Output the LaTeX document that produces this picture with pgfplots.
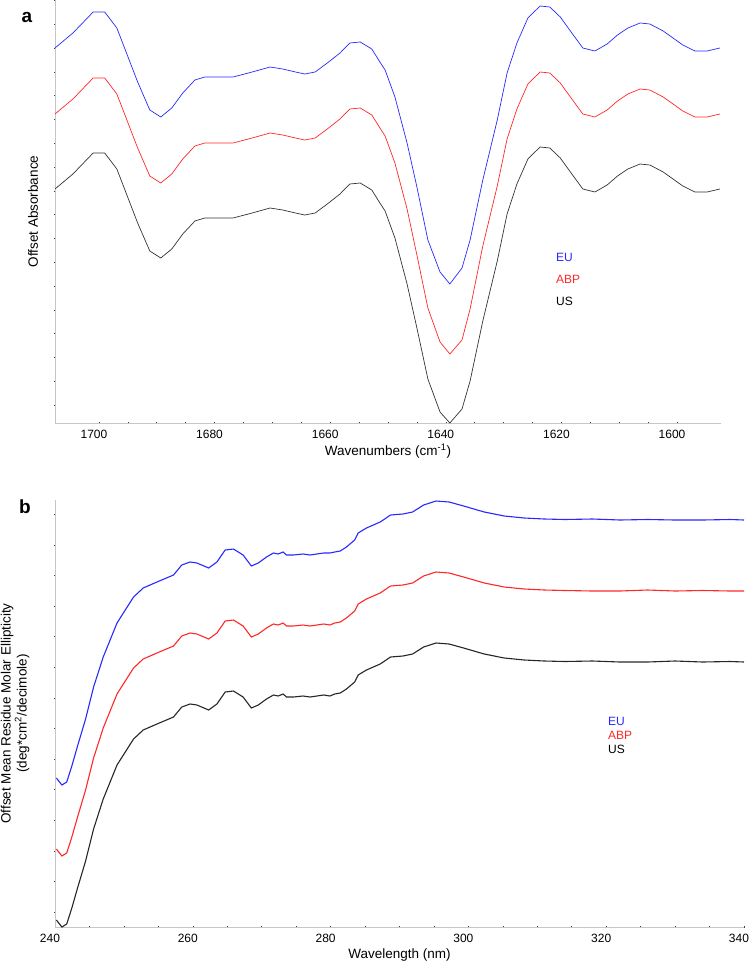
\documentclass[border=0pt]{standalone}
\usepackage{fontspec}
\setmainfont{Liberation Sans}
\usepackage{pgfplots}
\pgfplotsset{compat=1.18}
\definecolor{myblue}{RGB}{40,40,255}
\definecolor{myred}{RGB}{255,40,40}
\begin{document}
\begin{tikzpicture}
\useasboundingbox (0pt,0pt) rectangle (750pt,-964pt);
\pgfplotsset{
  myaxis/.style={
    scale only axis,
    axis x line=bottom, axis y line=left,
    axis line style={gray!45, line width=0.9pt, -},
    tick style={black!75, line width=0.6pt},
    major tick length=2pt, minor tick length=1.5pt,
    tick align=center,
    yticklabels={},
    clip=false,
    xticklabel style={font=\fontsize{12}{14}\selectfont, anchor=center, yshift=-10pt, xshift=-5pt},
    xlabel style={at={(axis description cs:0.5,0)}, anchor=center, yshift=-28pt, font=\fontsize{13.5}{16}\selectfont},
    ylabel style={anchor=center, font=\fontsize{13.5}{16}\selectfont},
  }
}
% ---------------- panel a ----------------
\begin{axis}[myaxis,
  at={(55pt,-423pt)}, anchor=south west,
  width=666pt, height=423pt,
  x dir=reverse,
  xmin=1592.4, xmax=1707.6, ymin=0, ymax=423,
  xtick={1600,1620,1640,1660,1680,1700},
  xticklabels={1600,1620,1640,1660,1680,1700},
  minor x tick num=3,
  ytick={18,41.8,...,420},
  xlabel={Wavenumbers (cm\textsuperscript{-1})},
  ylabel={Offset Absorbance},
  ylabel style={at={(axis description cs:-0.033,0.5)}},
]
\addplot[myblue, line width=0.7pt] table {
1707.6 375
1704.5 390
1701.0 411
1699.0 411
1696.9 395
1693.3 341
1691.2 313
1689.3 306
1687.4 315
1685.5 330
1683.4 343
1681.7 346
1679.0 346
1676.8 346
1673.5 351
1670.4 356
1668.2 354
1666.0 351
1664.4 349
1662.6 351
1660.5 360
1658.3 370
1656.6 380
1654.8 381
1652.8 374
1651.4 361
1650.5 353
1648.8 326
1646.7 280
1645.0 236
1643.1 183
1641.0 151
1639.3 139
1637.2 155
1635.8 183
1633.6 243
1631.1 303
1629.4 350
1627.7 380
1625.8 405
1623.7 417
1622.0 416
1620.2 406
1618.2 390
1616.3 375
1614.2 372
1612.1 379
1610.3 388
1608.5 395
1606.4 400
1604.7 399
1602.4 392
1599.0 378
1596.9 372
1594.8 372
1592.6 375
};
\addplot[myred, line width=0.7pt] table {
1707.6 309
1704.5 324
1701.0 345
1699.0 345
1696.9 329
1693.3 275
1691.2 247
1689.3 240
1687.4 249
1685.5 264
1683.4 277
1681.7 280
1679.0 280
1676.8 280
1673.5 285
1670.4 290
1668.2 288
1666.0 285
1664.4 283
1662.6 285
1660.5 294
1658.3 304
1656.6 314
1654.8 315
1652.8 308
1651.4 295
1650.5 287
1648.8 260
1646.7 214
1645.0 168
1643.1 115
1641.0 81
1639.3 69
1637.2 83
1635.8 114
1633.6 177
1631.1 237
1629.4 284
1627.7 314
1625.8 339
1623.7 351
1622.0 350
1620.2 340
1618.2 324
1616.3 309
1614.2 306
1612.1 313
1610.3 322
1608.5 329
1606.4 334
1604.7 333
1602.4 326
1599.0 312
1596.9 306
1594.8 306
1592.6 309
};
\addplot[black!80, line width=0.7pt] table {
1707.6 234
1704.5 249
1701.0 270
1699.0 270
1696.9 254
1693.3 200
1691.2 172
1689.3 165
1687.4 174
1685.5 189
1683.4 202
1681.7 205
1679.0 205
1676.8 205
1673.5 210
1670.4 215
1668.2 213
1666.0 210
1664.4 208
1662.6 210
1660.5 219
1658.3 229
1656.6 239
1654.8 240
1652.8 233
1651.4 220
1650.5 212
1648.8 185
1646.7 139
1645.0 95
1643.1 44
1641.0 11
1639.3 0
1637.2 14
1635.8 42
1633.6 102
1631.1 162
1629.4 209
1627.7 239
1625.8 264
1623.7 276
1622.0 275
1620.2 265
1618.2 249
1616.3 234
1614.2 231
1612.1 238
1610.3 247
1608.5 254
1606.4 259
1604.7 258
1602.4 251
1599.0 237
1596.9 231
1594.8 231
1592.6 234
};
\end{axis}
% ---------------- panel b ----------------
\begin{axis}[myaxis,
  at={(55pt,-927pt)}, anchor=south west,
  width=689pt, height=427pt,
  xmin=240, xmax=340, ymin=0, ymax=427,
  xtick={240,260,280,300,320,340},
  xticklabels={240,260,280,300,320,340},
  minor x tick num=3,
  ytick={15,45.6,...,425},
  xlabel={Wavelength (nm)},
  ylabel={Offset Mean Residue Molar Ellipticity\\(deg*cm\textsuperscript{2}/decimole)},
  ylabel style={at={(axis description cs:-0.058,0.5)}, align=center},
]
\addplot[myblue, line width=1.1pt] table {
240.2 149
241.0 142
241.7 145
242.4 160
243.4 184
244.4 207
245.6 240
247.0 270
249.0 304
251.4 330
252.8 339
254.8 345
257.2 352
258.4 362
259.6 365
260.6 364
262.3 359
263.5 365
264.7 377
265.9 378
267.3 372
268.5 361
269.5 364
270.7 370
271.7 374
272.4 373
273.1 375
273.6 372
274.6 372
276.0 373
277.0 372
278.0 373
279.0 374
279.9 374
280.6 375
281.4 376
282.3 380
283.5 387
284.0 394
285.2 399
287.2 405
288.7 412
290.5 413
291.9 415
293.5 422
295.3 426
297.2 425
299.3 421
302.3 415
305.2 411
308.1 409
311.0 408
314.0 407.5
318.0 408
322.0 407
326.0 407.5
330.0 407
334.0 407
338.0 407.5
340.0 407
};
\addplot[myred, line width=1.1pt] table {
240.2 78
241.0 71
241.7 74
242.4 89
243.4 113
244.4 136
245.6 169
247.0 199
249.0 233
251.4 259
252.8 268
254.8 274
257.2 281
258.4 291
259.6 294
260.6 293
262.3 288
263.5 294
264.7 306
265.9 307
267.3 301
268.5 290
269.5 293
270.7 299
271.7 303
272.4 302
273.1 304
273.6 301
274.6 301
276.0 302
277.0 301
278.0 302
279.0 303
279.9 302
280.6 304
281.4 305
282.3 309
283.5 316
284.0 323
285.2 328
287.2 334
288.7 341
290.5 342
291.9 344
293.5 351
295.3 355
297.2 354
299.3 350
302.3 344
305.2 340
308.1 338
311.0 337
314.0 336.5
318.0 336
322.0 336
326.0 337
330.0 336
334.0 336.5
338.0 336
340.0 336
};
\addplot[black!85, line width=1.1pt] table {
240.2 7
241.0 0
241.7 3
242.4 18
243.4 42
244.4 65
245.6 98
247.0 128
249.0 162
251.4 188
252.8 197
254.8 203
257.2 210
258.4 220
259.6 223
260.6 222
262.3 217
263.5 223
264.7 235
265.9 236
267.3 230
268.5 219
269.5 222
270.7 228
271.7 232
272.4 231
273.1 233
273.6 230
274.6 230
276.0 231
277.0 230
278.0 231
279.0 232
279.9 231
280.6 233
281.4 234
282.3 238
283.5 245
284.0 252
285.2 257
287.2 263
288.7 270
290.5 271
291.9 273
293.5 280
295.3 284
297.2 283
299.3 279
302.3 273
305.2 269
308.1 267
311.0 266
314.0 265.5
318.0 266
322.0 265
326.0 265
330.0 266
334.0 265
338.0 265.5
340.0 265
};
\end{axis}
% panel letters and series labels
\node[font=\fontsize{19}{22}\selectfont\bfseries] at (27pt,-17pt) {a};
\node[font=\fontsize{19}{22}\selectfont\bfseries] at (25pt,-507pt) {b};
\begin{scope}[every node/.style={anchor=west, inner sep=0pt, font=\fontsize{12}{14}\selectfont}]
\node[text=myblue] at (556pt,-257pt) {EU};
\node[text=myred] at (556pt,-279pt) {ABP};
\node[text=black] at (556pt,-301pt) {US};
\node[text=myblue] at (608pt,-721pt) {EU};
\node[text=myred] at (608pt,-735pt) {ABP};
\node[text=black] at (608pt,-749pt) {US};
\end{scope}
\end{tikzpicture}
\end{document}
